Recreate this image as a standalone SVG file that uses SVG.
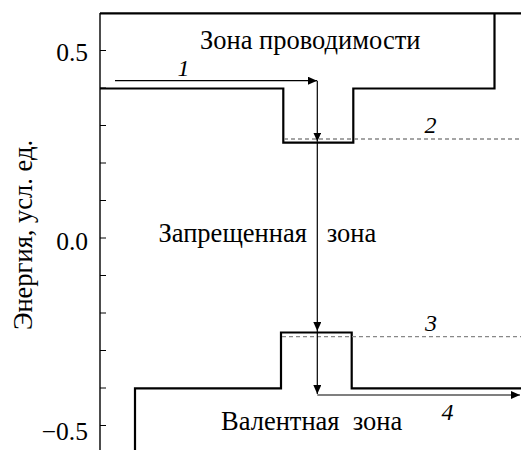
<svg xmlns="http://www.w3.org/2000/svg" width="521" height="450" viewBox="0 0 521 450">
<style>
text{font-family:'Liberation Serif','Times New Roman',serif;fill:#000}
.lbl{font-size:26.5px}
.num{font-size:24px;font-style:italic}
.tick{font-size:25.5px;text-anchor:end}
.band{fill:none;stroke:#000;stroke-width:2.2}
.axis{fill:none;stroke:#000;stroke-width:1.4}
.tk{fill:none;stroke:#000;stroke-width:1}
.dash{fill:none;stroke:#888;stroke-width:1.3;stroke-dasharray:4 3}
.arr{fill:none;stroke:#000;stroke-width:1.2}
</style>
<defs>
<marker id="ah" markerWidth="10" markerHeight="8" refX="9" refY="4" orient="auto" markerUnits="userSpaceOnUse">
<path d="M0,0 L9,4 L0,8 Z" fill="#000"/>
</marker>
</defs>
<g id="axis">
<path class="axis" d="M100,13 V450"/>
<path class="tk" d="M100,50.5 h6 M100,88 h6 M100,125.5 h6 M100,163 h6 M100,200.5 h6 M100,238 h6 M100,275.5 h6 M100,313 h6 M100,350.5 h6 M100,388 h6 M100,425.5 h6"/>
<text class="tick" x="88" y="60.5">0.5</text>
<text class="tick" x="88" y="250">0.0</text>
<text class="tick" x="88" y="440">−0.5</text>
<text class="lbl" transform="translate(31.5,235) rotate(-90)" text-anchor="middle">Энергия, усл. ед.</text>
</g>
<g id="conduction-band">
<path class="band" d="M100,13.3 H521"/>
<path class="band" d="M100,88.5 H283.3 V142.7 H353.3 V88.5 H494.5 V13.3"/>
<text class="lbl" x="200" y="49">Зона проводимости</text>
</g>
<g id="forbidden-zone">
<text class="lbl" x="158.5" y="241.5" xml:space="preserve">Запрещенная   зона</text>
</g>
<g id="valence-band">
<path class="band" d="M135,450 V388.3 H281 V332.5 H351.7 V388.3 H521"/>
<text class="lbl" x="221" y="430" xml:space="preserve">Валентная  зона</text>
</g>
<g id="level-2">
<path class="dash" d="M284,139 H521"/>
<text class="num" x="430.5" y="133" text-anchor="middle">2</text>
</g>
<g id="level-3">
<path class="dash" d="M282,336.7 H521"/>
<text class="num" x="431" y="331" text-anchor="middle">3</text>
</g>
<g id="connectors">
<path class="arr" d="M115,80.7 H317" marker-end="url(#ah)"/>
<path class="arr" d="M317.3,80.7 V141.5" marker-end="url(#ah)"/>
<path class="arr" d="M317.3,141.5 V331" marker-end="url(#ah)"/>
<path class="arr" d="M317.3,331 V394" marker-end="url(#ah)"/>
<path class="arr" d="M317.3,395 H520" marker-end="url(#ah)"/>
<text class="num" x="183.5" y="76" text-anchor="middle">1</text>
<text class="num" x="447.5" y="420" text-anchor="middle">4</text>
</g>
</svg>
